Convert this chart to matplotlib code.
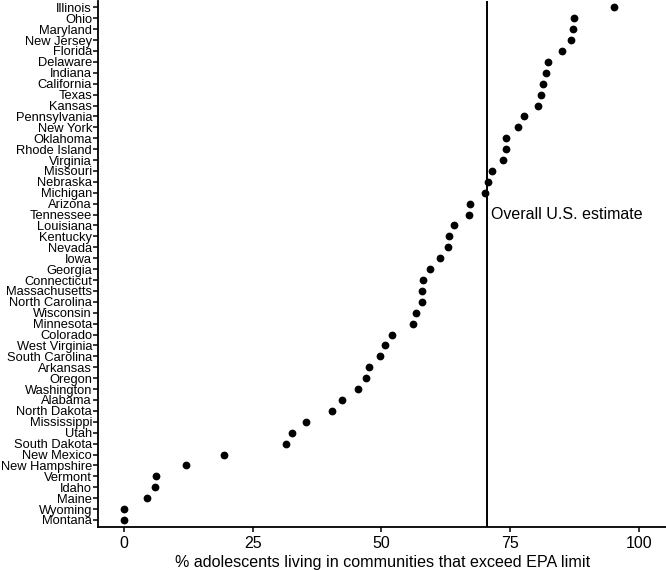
import matplotlib
matplotlib.use("Agg")
import matplotlib.pyplot as plt

states = ["Illinois", "Ohio", "Maryland", "New Jersey", "Florida", "Delaware", "Indiana",
          "California", "Texas", "Kansas", "Pennsylvania", "New York", "Oklahoma",
          "Rhode Island", "Virginia", "Missouri", "Nebraska", "Michigan", "Arizona",
          "Tennessee", "Louisiana", "Kentucky", "Nevada", "Iowa", "Georgia", "Connecticut",
          "Massachusetts", "North Carolina", "Wisconsin", "Minnesota", "Colorado",
          "West Virginia", "South Carolina", "Arkansas", "Oregon", "Washington", "Alabama",
          "North Dakota", "Mississippi", "Utah", "South Dakota", "New Mexico",
          "New Hampshire", "Vermont", "Idaho", "Maine", "Wyoming", "Montana"]
values = [95.2, 87.4, 87.3, 86.9, 85.1, 82.3, 82.0, 81.4, 81.1, 80.4, 77.8, 76.6, 74.3,
          74.3, 73.6, 71.5, 70.8, 70.2, 67.2, 67.1, 64.1, 63.2, 62.9, 61.4, 59.4, 58.0,
          57.9, 57.8, 56.7, 56.1, 52.0, 50.7, 49.8, 47.5, 47.0, 45.5, 42.3, 40.5, 35.3,
          32.6, 31.4, 19.5, 12.0, 6.3, 6.1, 4.4, 0.0, 0.0]
overall = 70.5
xticks = [0, 25, 50, 75, 100]
xlabel = "% adolescents living in communities that exceed EPA limit"
annot = "Overall U.S. estimate"

plt.rcParams["font.family"] = ["Liberation Sans", "DejaVu Sans"]

fig = plt.figure(figsize=(6.66, 5.70), dpi=100)
ax = fig.add_axes([0.1476, 0.0763, 0.8524, 0.9223])

n = len(states)
ypos = list(range(n - 1, -1, -1))
ax.plot(values, ypos, "o", color="black", ms=5.6, mew=0, ls="none")
ax.axvline(overall, color="black", lw=1.4)
ax.text(overall + 0.8, ypos[states.index("Tennessee")], annot, fontsize=11.5,
        va="center", ha="left", color="black")

ax.set_xlim(-5, 105.3)
ax.set_ylim(-0.6, n - 0.4)
ax.set_yticks(ypos)
ax.set_yticklabels(states, fontsize=9.3)
ax.set_xticks(xticks)
ax.set_xticklabels([str(t) for t in xticks], fontsize=11.5)
ax.set_xlabel(xlabel, fontsize=11.6, labelpad=3)

for s in ["top", "right"]:
    ax.spines[s].set_visible(False)
for s in ["left", "bottom"]:
    ax.spines[s].set_linewidth(1.3)
ax.tick_params(axis="both", length=3.5, width=1.1, color="black")
ax.tick_params(axis="x", pad=3)
ax.tick_params(axis="y", pad=1)

fig.savefig("out.png", dpi=100)
